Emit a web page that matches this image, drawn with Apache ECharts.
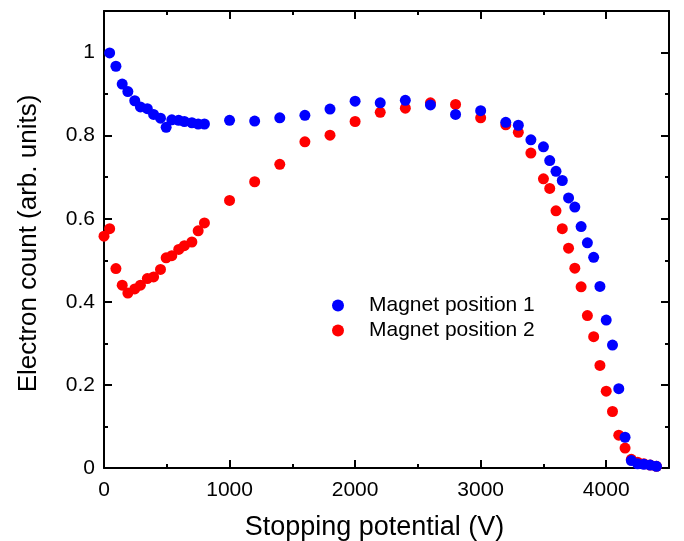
<!DOCTYPE html>
<html>
<head>
<meta charset="utf-8">
<script src="https://cdn.jsdelivr.net/npm/echarts@6/dist/echarts.min.js"></script>
<style>
html,body{margin:0;padding:0;background:#fff;}
#chart{width:684px;height:541px;}
</style>
</head>
<body>
<div id="chart"></div>
<script>
// Stopping potential (V) for each point
const xPos1 = [45, 95, 145, 190, 245, 290, 345, 395, 450, 495, 540, 595, 640, 700, 750, 800,
  1000, 1200, 1400, 1600, 1800, 2000, 2200, 2400, 2600, 2800, 3000, 3200, 3300, 3400, 3500, 3550,
  3600, 3650, 3700, 3750, 3800, 3850, 3900, 3950, 4000, 4050, 4100, 4150, 4200, 4250, 4300, 4350, 4400];
const pos1Values = [0.999, 0.967, 0.924, 0.906, 0.884, 0.869, 0.865, 0.851, 0.842, 0.820, 0.838, 0.837, 0.834, 0.831, 0.828, 0.828,
  0.837, 0.835, 0.843, 0.849, 0.864, 0.883, 0.879, 0.885, 0.874, 0.851, 0.860, 0.832, 0.825, 0.790, 0.773, 0.740,
  0.714, 0.692, 0.650, 0.628, 0.581, 0.542, 0.507, 0.437, 0.356, 0.296, 0.191, 0.074, 0.018, 0.010, 0.009, 0.007, 0.004];

const xPos2 = [0, 45, 95, 145, 190, 245, 290, 345, 395, 450, 495, 540, 595, 640, 700, 750, 800,
  1000, 1200, 1400, 1600, 1800, 2000, 2200, 2400, 2600, 2800, 3000, 3200, 3300, 3400, 3500, 3550,
  3600, 3650, 3700, 3750, 3800, 3850, 3900, 3950, 4000, 4050, 4100, 4150, 4200, 4250, 4300, 4350, 4400];
const pos2Values = [0.558, 0.576, 0.480, 0.440, 0.421, 0.431, 0.440, 0.456, 0.460, 0.478, 0.506, 0.511, 0.526, 0.535, 0.544, 0.571, 0.590,
  0.644, 0.689, 0.731, 0.785, 0.801, 0.834, 0.856, 0.866, 0.879, 0.875, 0.843, 0.826, 0.808, 0.758, 0.696, 0.673,
  0.619, 0.576, 0.529, 0.481, 0.436, 0.367, 0.316, 0.247, 0.185, 0.136, 0.079, 0.048, 0.021, 0.014, 0.010, 0.007, 0.004];

const seriesNames = ['Magnet position 1', 'Magnet position 2'];
const xTitle = 'Stopping potential (V)';
const yTitle = 'Electron count (arb. units)';

const FONT = 'Liberation Sans, Arial, sans-serif';
const gridBox = {left: 104, right: 15, top: 11, bottom: 73, containLabel: false, outerBoundsMode: 'none'};

function pairs(xs, ys) { return xs.map((x, i) => [x, ys[i]]); }
function plain(v) { return String(Math.round(v * 1000) / 1000); }

function xAx(grid, pos, interval, len, showLabel, showLine, extra) {
  return Object.assign({
    type: 'value', gridIndex: grid, position: pos, min: 0, max: 4500, interval: interval,
    axisLine: {show: showLine, onZero: false, lineStyle: {color: '#000', width: 2}},
    axisTick: {show: true, inside: true, length: len, lineStyle: {color: '#000', width: 2}},
    axisLabel: {show: showLabel, showMaxLabel: false, color: '#000', fontSize: 21, fontFamily: FONT, margin: 12, formatter: plain},
    splitLine: {show: false}
  }, extra || {});
}
function yAx(grid, pos, interval, len, showLabel, showLine, extra) {
  return Object.assign({
    type: 'value', gridIndex: grid, position: pos, min: 0, max: 1.1, interval: interval,
    axisLine: {show: showLine, onZero: false, lineStyle: {color: '#000', width: 2}},
    axisTick: {show: true, inside: true, length: len, lineStyle: {color: '#000', width: 2}},
    axisLabel: {show: showLabel, showMaxLabel: false, color: '#000', fontSize: 21, fontFamily: FONT, margin: 9, formatter: plain},
    splitLine: {show: false}
  }, extra || {});
}

const chart = echarts.init(document.getElementById('chart'), null, {renderer: 'canvas'});
chart.setOption({
  animation: false,
  backgroundColor: '#fff',
  grid: [Object.assign({}, gridBox), Object.assign({}, gridBox)],
  legend: {
    orient: 'vertical', left: 327, top: 290,
    data: seriesNames,
    itemWidth: 52, itemHeight: 12, itemGap: 4,
    textStyle: {color: '#000', fontSize: 21, fontFamily: FONT}
  },
  xAxis: [
    xAx(0, 'bottom', 1000, 8, true, true, {
      name: xTitle, nameLocation: 'middle', nameGap: 46,
      nameTextStyle: {color: '#000', fontSize: 27, fontFamily: FONT, padding: [0, 24, 0, 0]}
    }),
    xAx(0, 'top', 1000, 8, false, true),
    xAx(1, 'bottom', 500, 4, false, false),
    xAx(1, 'top', 500, 4, false, false)
  ],
  yAxis: [
    yAx(0, 'left', 0.2, 8, true, true, {
      name: yTitle, nameLocation: 'middle', nameGap: 62,
      nameTextStyle: {color: '#000', fontSize: 26, fontFamily: FONT, padding: [0, 8, 0, 0]}
    }),
    yAx(0, 'right', 0.2, 8, false, true),
    yAx(1, 'left', 0.1, 4, false, false),
    yAx(1, 'right', 0.1, 4, false, false)
  ],
  series: [
    {
      name: seriesNames[1], type: 'scatter', xAxisIndex: 0, yAxisIndex: 0,
      symbol: 'circle', symbolSize: 11, clip: false,
      itemStyle: {color: '#ff0000', opacity: 1},
      data: pairs(xPos2, pos2Values)
    },
    {
      name: seriesNames[0], type: 'scatter', xAxisIndex: 0, yAxisIndex: 0,
      symbol: 'circle', symbolSize: 11, clip: false,
      itemStyle: {color: '#0000ff', opacity: 1},
      data: pairs(xPos1, pos1Values)
    }
  ]
});
</script>
</body>
</html>
